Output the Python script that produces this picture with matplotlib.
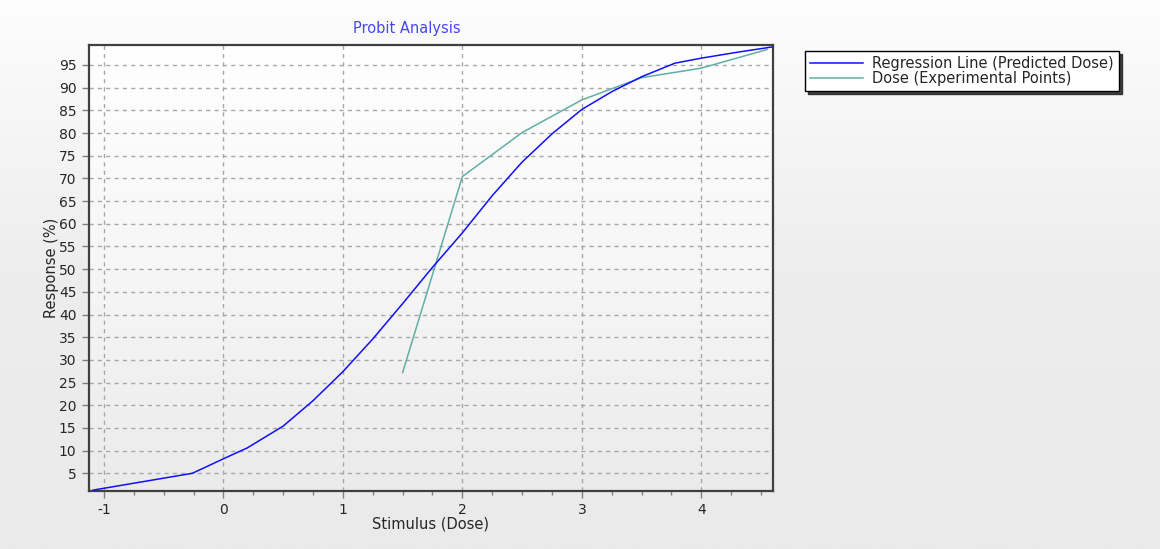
import numpy as np
import matplotlib
matplotlib.use("Agg")
import matplotlib.pyplot as plt
from matplotlib.ticker import MultipleLocator
from matplotlib.colors import LinearSegmentedColormap

plt.rcParams["axes.unicode_minus"] = False

# Data
reg_x = [-1.09, -0.26, 0.0, 0.2, 0.5, 0.75, 1.0, 1.25, 1.5, 1.75, 2.0, 2.25, 2.5, 2.75, 3.0, 3.25, 3.5, 3.78, 4.0, 4.3, 4.6]
reg_y = [1.3, 5.0, 8.2, 10.6, 15.4, 21.0, 27.4, 34.6, 42.4, 50.4, 58.0, 66.2, 73.6, 79.8, 85.2, 89.1, 92.4, 95.4, 96.5, 97.8, 99.0]
exp_x = [1.5, 2.0, 2.5, 3.0, 3.5, 4.0, 4.55]
exp_y = [27.2, 70.4, 80.1, 87.3, 92.2, 94.3, 98.4]
y_ticks = list(range(5, 100, 5))
x_ticks = [-1, 0, 1, 2, 3, 4]

W, H = 1160, 549
fig = plt.figure(figsize=(W / 100, H / 100), dpi=100)
fig.patch.set_facecolor("#EAEAEA")

# figure background gradient
bg = fig.add_axes([0, 0, 1, 1], zorder=-10)
grad = np.linspace(0, 1, 256).reshape(-1, 1)
cm_fig = LinearSegmentedColormap.from_list("f", ["#FDFDFD", "#EDEDED", "#EAEAEA"])
bg.imshow(grad, aspect="auto", cmap=cm_fig, extent=[0, 1, 0, 1], origin="upper")
bg.set_axis_off()

ax = fig.add_axes([89 / W, 1 - 491 / H, (773 - 89) / W, (491 - 45) / H])
xlim = (-1.125, 4.6)
ylim = (1.1, 99.4)
ax.set_xlim(*xlim)
ax.set_ylim(*ylim)
cm_ax = LinearSegmentedColormap.from_list("a", ["#FFFFFF", "#F6F6F6", "#EBEBEB"])
ax.imshow(grad, aspect="auto", cmap=cm_ax, extent=[xlim[0], xlim[1], ylim[0], ylim[1]],
          origin="upper", zorder=0)

ax.plot(reg_x, reg_y, color="#1010FF", lw=1.1, zorder=3, label="Regression Line (Predicted Dose)")
ax.plot(exp_x, exp_y, color="#62ADA7", lw=1.1, zorder=2, label="Dose (Experimental Points)")

ax.set_xticks(x_ticks)
ax.set_yticks(y_ticks)
ax.xaxis.set_minor_locator(MultipleLocator(0.25))
ax.grid(True, which="major", color="#A8A8A8", linestyle=(0, (3, 3)), lw=1.0, zorder=1)
ax.set_axisbelow(True)
ax.tick_params(axis="both", which="major", direction="out", length=5, width=1, color="#808080",
               labelsize=10, labelcolor="#262626")
ax.tick_params(axis="y", which="major", pad=4)
ax.tick_params(axis="x", which="minor", direction="out", length=3, width=1, color="#808080")
for s in ax.spines.values():
    s.set_color("#404040")
    s.set_linewidth(1.6)

ax.set_xlabel("Stimulus (Dose)", fontsize=10.5, color="#262626", labelpad=0)
ax.set_ylabel("Response (%)", fontsize=10.5, color="#262626", labelpad=0)
fig.text(407 / W, 1 - 28 / H, "Probit Analysis", fontsize=10.5, color="#4646FF",
         ha="center", va="center")

leg = fig.legend(loc="upper left", bbox_to_anchor=(805 / W, 1 - 51 / H), fontsize=10.5,
                 frameon=True, fancybox=False, shadow={"color": "#202020", "alpha": 0.85},
                 edgecolor="#000000", framealpha=1, borderpad=0.35, handlelength=3.6,
                 handletextpad=0.65, labelspacing=-0.03, borderaxespad=0)
leg.get_frame().set_linewidth(1.0)
for t in leg.get_texts():
    t.set_color("#262626")

fig.savefig("out.png", dpi=100)
